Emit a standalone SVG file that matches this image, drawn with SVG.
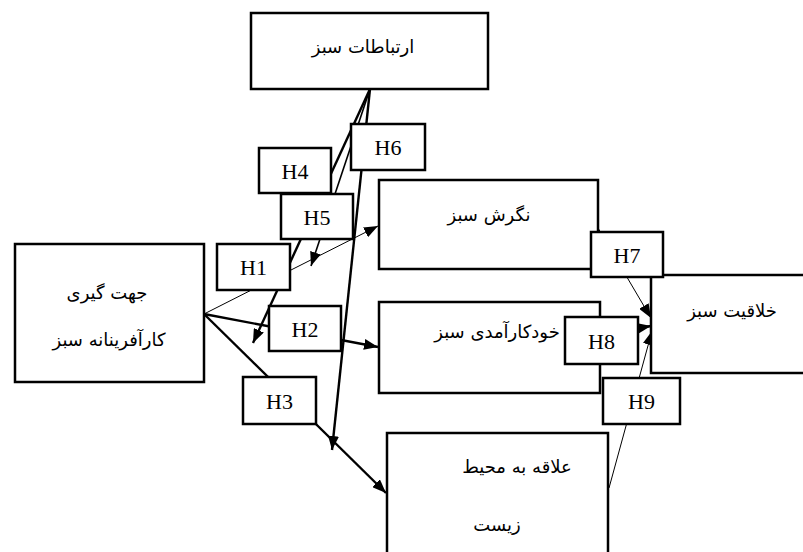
<svg xmlns="http://www.w3.org/2000/svg" width="803" height="552" viewBox="0 0 803 552">
<defs>
<marker id="ah" markerUnits="userSpaceOnUse" markerWidth="15" markerHeight="11" refX="14" refY="5.5" orient="auto">
<path d="M0,0 L14,5.5 L0,11 z" fill="#000"/>
</marker>
<style>
.box{fill:#fff;stroke:#000;stroke-width:2.5}
.fa{font-family:"DejaVu Sans",sans-serif;font-size:18px;text-anchor:middle;direction:rtl;fill:#000}
.h{font-family:"Liberation Serif",serif;font-size:22px;text-anchor:middle;fill:#000}
.c{stroke:#000;fill:none}
.thin{stroke-width:1}
.mid{stroke-width:1.6}
.thick{stroke-width:2.4}
</style>
</defs>
<rect width="803" height="552" fill="#fff"/>
<g id="connectors">
<line class="c thin" x1="204" y1="314" x2="378" y2="226" marker-end="url(#ah)"/>
<line class="c thick" x1="204" y1="314" x2="378" y2="347" marker-end="url(#ah)"/>
<line class="c thick" x1="204" y1="314" x2="386" y2="493" marker-end="url(#ah)"/>
<line class="c thick" x1="370" y1="89" x2="253" y2="343" marker-end="url(#ah)"/>
<line class="c mid" x1="370" y1="89" x2="311" y2="266" marker-end="url(#ah)"/>
<line class="c thick" x1="370" y1="89" x2="332" y2="450" marker-end="url(#ah)"/>
<line class="c thin" x1="598" y1="228" x2="651" y2="318" marker-end="url(#ah)"/>
<line class="c thick" x1="600" y1="335" x2="651" y2="326" marker-end="url(#ah)"/>
<line class="c thin" x1="609" y1="488" x2="652" y2="331" marker-end="url(#ah)"/>
</g>
<g id="n-ertebatat">
<rect class="box" x="251" y="13" width="237" height="76"/>
<text class="fa" x="363" y="53">ارتباطات سبز</text>
</g>
<g id="n-negaresh">
<rect class="box" x="379" y="180" width="219" height="89"/>
<text class="fa" x="489" y="221">نگرش سبز</text>
</g>
<g id="n-khodkaramadi">
<rect class="box" x="379" y="302" width="221" height="91"/>
<text class="fa" x="497" y="338" style="letter-spacing:0.5px">خودکارآمدی سبز</text>
</g>
<g id="n-khalaghiat">
<rect class="box" x="651" y="275" width="160" height="98"/>
<text class="fa" x="732" y="317">خلاقیت سبز</text>
</g>
<g id="n-alaghe">
<rect class="box" x="387" y="433" width="221" height="130"/>
<text class="fa" x="517" y="473">علاقه به محیط</text>
<text class="fa" x="497" y="531">زیست</text>
</g>
<g id="n-jahatgiri">
<rect class="box" x="15" y="244" width="189" height="138"/>
<text class="fa" x="107" y="299">جهت گیری</text>
<text class="fa" x="109" y="346">کارآفرینانه سبز</text>
</g>
<g id="h4"><rect class="box" x="259" y="148" width="72" height="45"/><text class="h" x="295" y="179">H4</text></g>
<g id="h5"><rect class="box" x="281" y="194" width="72" height="45"/><text class="h" x="317" y="225">H5</text></g>
<g id="h6"><rect class="box" x="351" y="124" width="74" height="46"/><text class="h" x="388" y="155">H6</text></g>
<g id="h1"><rect class="box" x="217" y="244" width="73" height="46"/><text class="h" x="253.5" y="275">H1</text></g>
<g id="h2"><rect class="box" x="269" y="306" width="72" height="45"/><text class="h" x="305" y="337">H2</text></g>
<g id="h3"><rect class="box" x="243" y="377" width="73" height="47"/><text class="h" x="279.5" y="409">H3</text></g>
<g id="h7"><rect class="box" x="591" y="232" width="72" height="45"/><text class="h" x="627" y="263">H7</text></g>
<g id="h8"><rect class="box" x="565" y="317" width="73" height="47"/><text class="h" x="601.5" y="349">H8</text></g>
<g id="h9"><rect class="box" x="603" y="378" width="77" height="46"/><text class="h" x="641.5" y="409">H9</text></g>
</svg>
